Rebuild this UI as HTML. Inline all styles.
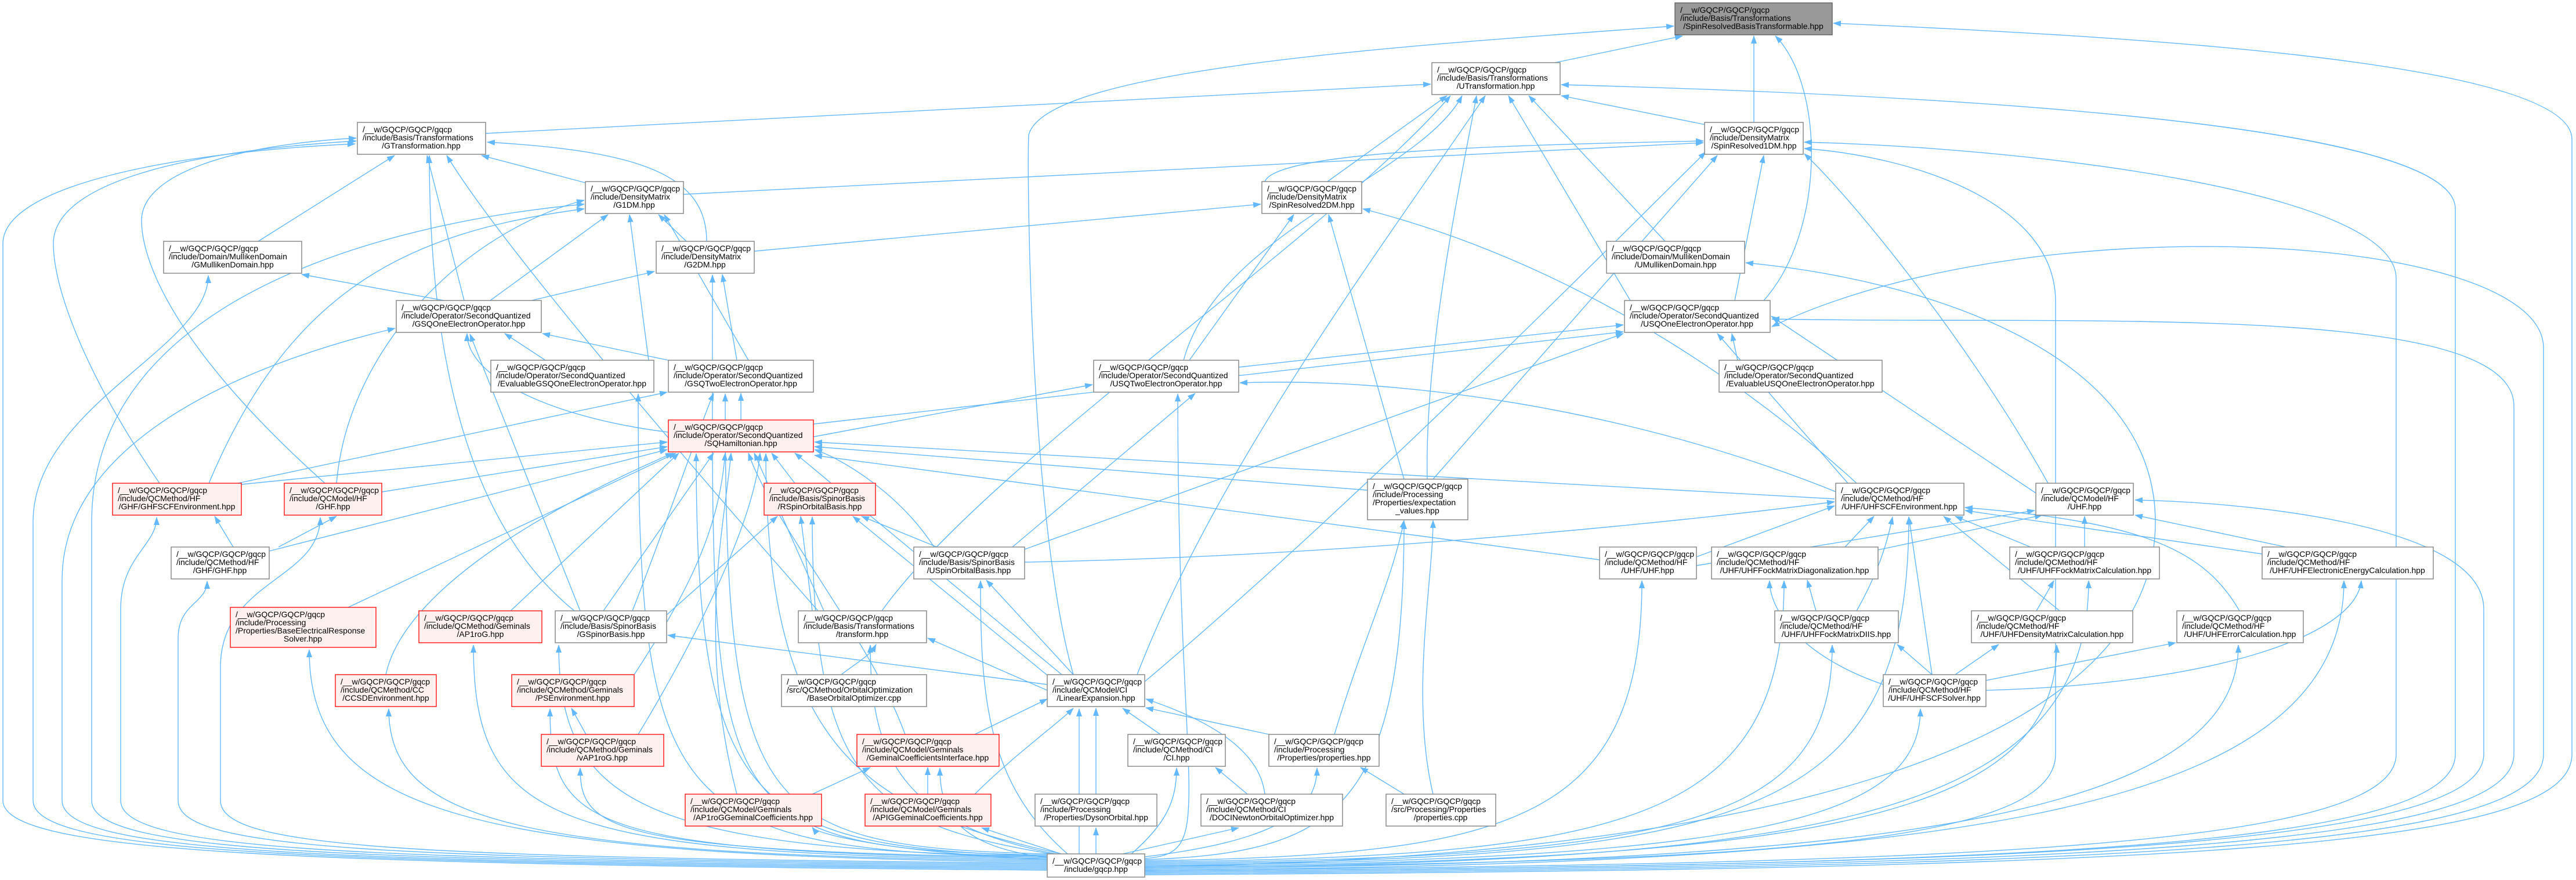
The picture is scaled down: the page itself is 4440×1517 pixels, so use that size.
<!DOCTYPE html>
<html><head><meta charset="utf-8"><style>
html,body{margin:0;padding:0;background:#fff;}
svg{display:block;}
text{font-family:"Liberation Sans",Helvetica,sans-serif;font-size:14px;fill:#000;}
.e{fill:none;stroke:#63b8ff;stroke-width:1.4;marker-end:url(#ah);}
.n{fill:#fff;stroke:#8a8a8a;stroke-width:1.5;}
.r{fill:#fff0f0;stroke:#ff2020;stroke-width:1.5;}
.g{fill:#999;stroke:#666;stroke-width:1.5;}
</style></head><body>
<svg width="4440" height="1517" viewBox="0 0 4440 1517" xmlns="http://www.w3.org/2000/svg">
<defs><marker id="ah" markerWidth="14" markerHeight="10" refX="13" refY="5" orient="auto" markerUnits="userSpaceOnUse"><path d="M0 0 L14 5 L0 10z" fill="#63b8ff"/></marker></defs>
<g>
<!-- gqcp edges left -->
<path class="e" d="M1805 1500 C500 1490,5 1470,5 1380 L5 420 C5 320,300 262,612 248"/>
<path class="e" d="M1805 1498 C520 1488,57 1470,57 1380 L57 900 C57 700,359 600,359 475"/>
<path class="e" d="M1805 1496 C540 1486,107 1470,107 1380 L107 1000 C107 750,450 620,681 566"/>
<path class="e" d="M1805 1494 C560 1484,158 1468,158 1380 L158 900 C158 500,700 380,1007 352"/>
<path class="e" d="M1805 1492 C600 1482,208 1466,208 1380 L208 1050 C208 960,270 940,270 892"/>
<path class="e" d="M1805 1490 C650 1480,307 1464,307 1380 L307 1100 C307 1040,357 1040,357 1002"/>
<path class="e" d="M1805 1488 C700 1478,380 1462,380 1380 L380 1150 C380 1000,552 1000,552 892"/>
<path class="e" d="M1805 1486 C800 1476,533 1400,533 1120"/>
<path class="e" d="M1805 1484 C900 1474,670 1420,670 1222"/>
<path class="e" d="M1805 1482 C950 1472,816 1420,816 1112"/>
<path class="e" d="M1805 1480 C1000 1470,948 1420,948 1222"/>
<path class="e" d="M1805 1478 C1050 1468,1000 1430,1000 1324"/>
<path class="e" d="M1805 1476 C1100 1466,963 1380,963 1112"/>
<path class="e" d="M1805 1474 C1200 1464,1228 1400,1228 474"/>
<path class="e" d="M1805 1476 C1300 1460,1200 1400,1200 782"/>
<path class="e" d="M1830 1472 C1500 1400,1320 1300,1320 782"/>
<path class="e" d="M1805 1472 C1300 1460,1250 1400,1250 679"/>
<path class="e" d="M1805 1478 C1150 1466,1100 1400,1100 679"/>
<path class="e" d="M1812 1472 C1500 1420,1400 1350,1400 891"/>
<path class="e" d="M1820 1472 C1550 1420,1500 1300,1500 1112"/>
<path class="e" d="M1805 1482 C1550 1470,1410 1440,1400 1426"/>
<path class="e" d="M1829 1472 L1692 1427"/>
<path class="e" d="M1805 1478 C1650 1460,1620 1400,1620 1324"/>
<path class="e" d="M1840 1472 C1700 1350,1690 1200,1690 1001"/>
<path class="e" d="M1860 1472 L1860 1222"/>
<path class="e" d="M1889 1472 L1889 1427"/>
<!-- gqcp edges right -->
<path class="e" d="M1935 1472 L2135 1427"/>
<path class="e" d="M1950 1472 C2010 1420,2028 1380,2028 1324"/>
<path class="e" d="M1965 1478 C2200 1450,2270 1400,2270 1324"/>
<path class="e" d="M1973 1482 C2300 1470,2420 1400,2420 899"/>
<path class="e" d="M1973 1480 C2100 1470,2030 1400,2030 679"/>
<path class="e" d="M1973 1484 C2600 1474,2830 1420,2830 1001"/>
<path class="e" d="M1973 1486 C2800 1476,3075 1420,3075 1001"/>
<path class="e" d="M1973 1488 C2900 1478,3158 1420,3158 1112"/>
<path class="e" d="M1973 1490 C3000 1480,3290 1420,3290 891"/>
<path class="e" d="M1973 1492 C3000 1482,3310 1420,3310 1222"/>
<path class="e" d="M1973 1494 C3100 1484,3545 1420,3545 1112"/>
<path class="e" d="M1973 1496 C3100 1486,3600 1420,3600 1001"/>
<path class="e" d="M1973 1498 C3200 1488,3858 1420,3858 1112"/>
<path class="e" d="M1973 1500 C3300 1490,4040 1420,4040 1001"/>
<path class="e" d="M1973 1502 C3500 1492,4281 1460,4281 1300 L4281 1050 C4281 900,3850 865,3680 862"/>
<path class="e" d="M1973 1504 C3600 1494,4333 1460,4333 1300 L4333 700 C4333 520,3600 560,3054 550"/>
<path class="e" d="M1973 1506 C3700 1496,4384 1460,4384 1300 L4384 600 C4384 400,3500 350,3054 563"/>
<path class="e" d="M1973 1500 C3400 1490,4130 1460,4130 1300 L4130 480 C4130 330,3500 255,3110 245"/>
<path class="e" d="M1973 1496 C3000 1486,3543 1460,3543 1300 L3543 520 C3543 350,3300 270,3110 256"/>
<path class="e" d="M1973 1502 C3500 1492,4232 1460,4232 1300 L4232 360 C4232 200,3200 160,2691 146"/>
<path class="e" d="M1973 1508 C3800 1498,4433 1460,4433 1300 L4433 240 C4433 100,3600 60,3160 40"/>
<path class="e" d="M1973 1494 C3000 1480,3715 1300,3715 900 C3715 600,3300 480,3009 453"/>
<!-- internal edges -->
<path class="e" d="M2680 108 L2900 62"/>
<path class="e" d="M3023 211 L3023 62"/>
<path class="e" d="M1850 1163 C1775 900,1770 300,1773 233 C1800 120,2400 80,2885 45"/>
<path class="e" d="M837 230 L2466 145"/>
<path class="e" d="M2940 215 L2691 165"/>
<path class="e" d="M2870 416 L2635 165"/>
<path class="e" d="M2288 313 L2494 165"/>
<path class="e" d="M2810 518 L2600 165"/>
<path class="e" d="M2460 826 C2455 600,2520 300,2545 165"/>
<path class="e" d="M1009 315 L830 268"/>
<path class="e" d="M445 416 L680 268"/>
<path class="e" d="M1218 416 C1218 300,1100 260,840 245"/>
<path class="e" d="M1183 416 L1135 370"/>
<path class="e" d="M1178 335 L2936 246"/>
<path class="e" d="M1300 433 L2173 352"/>
<path class="e" d="M2180 313 C2200 260,2600 250,2936 243"/>
<path class="e" d="M765 518 L520 473"/>
<path class="e" d="M916 518 L1128 468"/>
<path class="e" d="M845 518 L1048 370"/>
<path class="e" d="M800 518 L736 268"/>
<path class="e" d="M1152 621 L935 575"/>
<path class="e" d="M1290 621 L1145 370"/>
<path class="e" d="M1270 621 L1245 473"/>
<path class="e" d="M940 621 L870 575"/>
<path class="e" d="M1118 621 L1085 370"/>
<path class="e" d="M1152 745 C950 720,805 650,805 575"/>
<path class="e" d="M1277 724 L1277 678"/>
<path class="e" d="M1402 731 L2798 572"/>
<path class="e" d="M1402 753 L1883 663"/>
<path class="e" d="M416 835 L1150 762"/>
<path class="e" d="M410 833 L1150 676"/>
<path class="e" d="M275 833 C150 650,92 500,92 420 C92 320,300 262,614 243"/>
<path class="e" d="M658 848 L1150 770"/>
<path class="e" d="M560 833 C300 600,244 450,244 380 C244 300,400 250,614 238"/>
<path class="e" d="M580 833 C600 600,800 400,1007 345"/>
<path class="e" d="M360 833 C500 500,700 400,1007 360"/>
<path class="e" d="M402 943 L370 890"/>
<path class="e" d="M480 943 L580 890"/>
<path class="e" d="M464 950 L1150 775"/>
<path class="e" d="M1370 833 L1330 781"/>
<path class="e" d="M1615 943 L1485 890"/>
<path class="e" d="M1745 943 L2060 678"/>
<path class="e" d="M1766 947 L2798 575"/>
<path class="e" d="M1766 969 C2300 960,2900 900,3162 865"/>
<path class="e" d="M1610 943 C1550 850,1450 790,1404 775"/>
<path class="e" d="M2357 845 L1404 770"/>
<path class="e" d="M2420 826 L2290 370"/>
<path class="e" d="M2470 826 L2960 268"/>
<path class="e" d="M3162 860 L1404 762"/>
<path class="e" d="M3185 833 L2960 575"/>
<path class="e" d="M3200 833 C3000 650,2700 450,2349 360"/>
<path class="e" d="M3170 850 C2800 700,2400 650,2137 660"/>
<path class="e" d="M3509 850 L3053 545"/>
<path class="e" d="M3530 833 C3400 600,3200 350,3110 265"/>
<path class="e" d="M2924 960 L3162 872"/>
<path class="e" d="M2924 975 L3507 880"/>
<path class="e" d="M2757 965 L1404 785"/>
<path class="e" d="M3180 943 L3230 890"/>
<path class="e" d="M3237 948 L3520 888"/>
<path class="e" d="M3500 943 L3370 890"/>
<path class="e" d="M3593 943 L3593 890"/>
<path class="e" d="M3899 955 L3387 880"/>
<path class="e" d="M3940 943 L3680 888"/>
<path class="e" d="M3130 1053 L3115 1000"/>
<path class="e" d="M3200 1053 C3230 1000,3250 950,3262 891"/>
<path class="e" d="M3510 1053 L3540 1001"/>
<path class="e" d="M3550 1053 L3350 890"/>
<path class="e" d="M3860 1053 C3800 950,3700 900,3387 875"/>
<path class="e" d="M3330 1163 L3270 1111"/>
<path class="e" d="M3370 1163 L3445 1111"/>
<path class="e" d="M3423 1173 L3750 1108"/>
<path class="e" d="M3423 1190 C3800 1180,4060 1100,4070 1001"/>
<path class="e" d="M3246 1180 C3100 1130,3050 1050,3050 1001"/>
<path class="e" d="M3330 1163 L3290 891"/>
<path class="e" d="M990 1053 C800 900,740 600,740 268"/>
<path class="e" d="M1040 1053 L1230 781"/>
<path class="e" d="M1000 1053 L810 576"/>
<path class="e" d="M1090 1053 C1150 900,1200 750,1230 678"/>
<path class="e" d="M1149 1060 L1340 890"/>
<path class="e" d="M1805 1180 L1151 1095"/>
<path class="e" d="M1400 1053 L1380 890"/>
<path class="e" d="M1420 1053 L1300 781"/>
<path class="e" d="M1520 1053 C1700 800,2300 400,2500 165"/>
<path class="e" d="M1410 1053 C1100 700,850 400,770 268"/>
<path class="e" d="M1450 1163 C1480 1140,1500 1130,1510 1111"/>
<path class="e" d="M1830 1163 L1370 781"/>
<path class="e" d="M1810 1168 L1470 890"/>
<path class="e" d="M1850 1163 L1700 1000"/>
<path class="e" d="M1805 1190 L1599 1100"/>
<path class="e" d="M1973 1175 C2300 900,2700 500,2940 262"/>
<path class="e" d="M1960 1163 C2100 800,2400 400,2560 165"/>
<path class="e" d="M1680 1266 L1805 1205"/>
<path class="e" d="M1560 1266 C1500 1100,1330 900,1290 781"/>
<path class="e" d="M1400 1369 L1500 1323"/>
<path class="e" d="M1270 1369 C1200 1100,1250 900,1260 781"/>
<path class="e" d="M1599 1369 L1599 1323"/>
<path class="e" d="M1680 1369 C1750 1300,1820 1250,1850 1221"/>
<path class="e" d="M2000 1266 L1935 1221"/>
<path class="e" d="M2150 1369 L2095 1323"/>
<path class="e" d="M2180 1369 C2170 1280,2050 1230,1975 1205"/>
<path class="e" d="M1889 1369 L1889 1221"/>
<path class="e" d="M2187 1266 L1975 1220"/>
<path class="e" d="M2300 1266 C2350 1100,2400 1000,2420 897"/>
<path class="e" d="M2420 1369 L2345 1323"/>
<path class="e" d="M2470 1369 C2430 1200,2470 1000,2470 897"/>
<path class="e" d="M880 1053 L1170 781"/>
<path class="e" d="M1093 1163 C1200 1000,1240 900,1250 781"/>
<path class="e" d="M1010 1266 L985 1221"/>
<path class="e" d="M1100 1266 C1200 1100,1300 900,1310 781"/>
<path class="e" d="M665 1163 C700 1000,1000 850,1160 781"/>
<path class="e" d="M600 1047 L1165 781"/>
<path class="e" d="M2135 633 L2798 560"/>
<path class="e" d="M2050 621 L2230 370"/>
<path class="e" d="M2040 621 C2100 400,2450 300,2520 165"/>
<path class="e" d="M2990 518 L3040 268"/>
<path class="e" d="M3040 518 C3146 400,3146 150,3060 62"/>
<path class="e" d="M2995 621 L2985 575"/>
</g>
<!-- nodes -->
<g>
<rect class="g" x="2887" y="5" width="271" height="55"/><text x="2896" y="22">/__w/GQCP/GQCP/gqcp</text><text x="2896" y="36">/include/Basis/Transformations</text><text x="3022" y="50" text-anchor="middle">/SpinResolvedBasisTransformable.hpp</text>
<rect class="n" x="2468" y="108" width="221" height="55"/><text x="2477" y="125">/__w/GQCP/GQCP/gqcp</text><text x="2477" y="139">/include/Basis/Transformations</text><text x="2578" y="153" text-anchor="middle">/UTransformation.hpp</text>
<rect class="n" x="616" y="211" width="221" height="55"/><text x="625" y="228">/__w/GQCP/GQCP/gqcp</text><text x="625" y="242">/include/Basis/Transformations</text><text x="726" y="256" text-anchor="middle">/GTransformation.hpp</text>
<rect class="n" x="2938" y="211" width="170" height="55"/><text x="2947" y="228">/__w/GQCP/GQCP/gqcp</text><text x="2947" y="242">/include/DensityMatrix</text><text x="3023" y="256" text-anchor="middle">/SpinResolved1DM.hpp</text>
<rect class="n" x="1009" y="313" width="169" height="55"/><text x="1018" y="330">/__w/GQCP/GQCP/gqcp</text><text x="1018" y="344">/include/DensityMatrix</text><text x="1093" y="358" text-anchor="middle">/G1DM.hpp</text>
<rect class="n" x="2175" y="313" width="172" height="55"/><text x="2184" y="330">/__w/GQCP/GQCP/gqcp</text><text x="2184" y="344">/include/DensityMatrix</text><text x="2261" y="358" text-anchor="middle">/SpinResolved2DM.hpp</text>
<rect class="n" x="282" y="416" width="238" height="55"/><text x="291" y="433">/__w/GQCP/GQCP/gqcp</text><text x="291" y="447">/include/Domain/MullikenDomain</text><text x="401" y="461" text-anchor="middle">/GMullikenDomain.hpp</text>
<rect class="n" x="1131" y="416" width="169" height="55"/><text x="1140" y="433">/__w/GQCP/GQCP/gqcp</text><text x="1140" y="447">/include/DensityMatrix</text><text x="1215" y="461" text-anchor="middle">/G2DM.hpp</text>
<rect class="n" x="2769" y="416" width="238" height="55"/><text x="2778" y="433">/__w/GQCP/GQCP/gqcp</text><text x="2778" y="447">/include/Domain/MullikenDomain</text><text x="2888" y="461" text-anchor="middle">/UMullikenDomain.hpp</text>
<rect class="n" x="683" y="518" width="250" height="55"/><text x="692" y="535">/__w/GQCP/GQCP/gqcp</text><text x="692" y="549">/include/Operator/SecondQuantized</text><text x="808" y="563" text-anchor="middle">/GSQOneElectronOperator.hpp</text>
<rect class="n" x="2800" y="518" width="251" height="55"/><text x="2809" y="535">/__w/GQCP/GQCP/gqcp</text><text x="2809" y="549">/include/Operator/SecondQuantized</text><text x="2925" y="563" text-anchor="middle">/USQOneElectronOperator.hpp</text>
<rect class="n" x="846" y="621" width="281" height="55"/><text x="855" y="638">/__w/GQCP/GQCP/gqcp</text><text x="855" y="652">/include/Operator/SecondQuantized</text><text x="986" y="666" text-anchor="middle">/EvaluableGSQOneElectronOperator.hpp</text>
<rect class="n" x="1152" y="621" width="250" height="55"/><text x="1161" y="638">/__w/GQCP/GQCP/gqcp</text><text x="1161" y="652">/include/Operator/SecondQuantized</text><text x="1277" y="666" text-anchor="middle">/GSQTwoElectronOperator.hpp</text>
<rect class="n" x="1885" y="621" width="250" height="55"/><text x="1894" y="638">/__w/GQCP/GQCP/gqcp</text><text x="1894" y="652">/include/Operator/SecondQuantized</text><text x="2010" y="666" text-anchor="middle">/USQTwoElectronOperator.hpp</text>
<rect class="n" x="2963" y="621" width="281" height="55"/><text x="2972" y="638">/__w/GQCP/GQCP/gqcp</text><text x="2972" y="652">/include/Operator/SecondQuantized</text><text x="3103" y="666" text-anchor="middle">/EvaluableUSQOneElectronOperator.hpp</text>
<rect class="r" x="1152" y="724" width="250" height="55"/><text x="1161" y="741">/__w/GQCP/GQCP/gqcp</text><text x="1161" y="755">/include/Operator/SecondQuantized</text><text x="1277" y="769" text-anchor="middle">/SQHamiltonian.hpp</text>
<rect class="r" x="194" y="833" width="222" height="55"/><text x="203" y="850">/__w/GQCP/GQCP/gqcp</text><text x="203" y="864">/include/QCMethod/HF</text><text x="305" y="878" text-anchor="middle">/GHF/GHFSCFEnvironment.hpp</text>
<rect class="r" x="490" y="833" width="168" height="55"/><text x="499" y="850">/__w/GQCP/GQCP/gqcp</text><text x="499" y="864">/include/QCModel/HF</text><text x="574" y="878" text-anchor="middle">/GHF.hpp</text>
<rect class="r" x="1317" y="833" width="192" height="55"/><text x="1326" y="850">/__w/GQCP/GQCP/gqcp</text><text x="1326" y="864">/include/Basis/SpinorBasis</text><text x="1413" y="878" text-anchor="middle">/RSpinOrbitalBasis.hpp</text>
<rect class="n" x="2357" y="826" width="173" height="70"/><text x="2366" y="843">/__w/GQCP/GQCP/gqcp</text><text x="2366" y="857">/include/Processing</text><text x="2366" y="871">/Properties/expectation</text><text x="2443" y="885" text-anchor="middle">_values.hpp</text>
<rect class="n" x="3164" y="833" width="221" height="55"/><text x="3173" y="850">/__w/GQCP/GQCP/gqcp</text><text x="3173" y="864">/include/QCMethod/HF</text><text x="3274" y="878" text-anchor="middle">/UHF/UHFSCFEnvironment.hpp</text>
<rect class="n" x="3509" y="833" width="168" height="55"/><text x="3518" y="850">/__w/GQCP/GQCP/gqcp</text><text x="3518" y="864">/include/QCModel/HF</text><text x="3593" y="878" text-anchor="middle">/UHF.hpp</text>
<rect class="n" x="295" y="943" width="169" height="55"/><text x="304" y="960">/__w/GQCP/GQCP/gqcp</text><text x="304" y="974">/include/QCMethod/HF</text><text x="379" y="988" text-anchor="middle">/GHF/GHF.hpp</text>
<rect class="n" x="1575" y="943" width="191" height="55"/><text x="1584" y="960">/__w/GQCP/GQCP/gqcp</text><text x="1584" y="974">/include/Basis/SpinorBasis</text><text x="1670" y="988" text-anchor="middle">/USpinOrbitalBasis.hpp</text>
<rect class="n" x="2757" y="943" width="167" height="55"/><text x="2766" y="960">/__w/GQCP/GQCP/gqcp</text><text x="2766" y="974">/include/QCMethod/HF</text><text x="2840" y="988" text-anchor="middle">/UHF/UHF.hpp</text>
<rect class="n" x="2950" y="943" width="287" height="55"/><text x="2959" y="960">/__w/GQCP/GQCP/gqcp</text><text x="2959" y="974">/include/QCMethod/HF</text><text x="3093" y="988" text-anchor="middle">/UHF/UHFFockMatrixDiagonalization.hpp</text>
<rect class="n" x="3464" y="943" width="258" height="55"/><text x="3473" y="960">/__w/GQCP/GQCP/gqcp</text><text x="3473" y="974">/include/QCMethod/HF</text><text x="3593" y="988" text-anchor="middle">/UHF/UHFFockMatrixCalculation.hpp</text>
<rect class="n" x="3899" y="943" width="295" height="55"/><text x="3908" y="960">/__w/GQCP/GQCP/gqcp</text><text x="3908" y="974">/include/QCMethod/HF</text><text x="4046" y="988" text-anchor="middle">/UHF/UHFElectronicEnergyCalculation.hpp</text>
<rect class="r" x="397" y="1047" width="251" height="69"/><text x="406" y="1064">/__w/GQCP/GQCP/gqcp</text><text x="406" y="1078">/include/Processing</text><text x="406" y="1092">/Properties/BaseElectricalResponse</text><text x="522" y="1106" text-anchor="middle">Solver.hpp</text>
<rect class="r" x="722" y="1053" width="212" height="55"/><text x="731" y="1070">/__w/GQCP/GQCP/gqcp</text><text x="731" y="1084">/include/QCMethod/Geminals</text><text x="828" y="1098" text-anchor="middle">/AP1roG.hpp</text>
<rect class="n" x="957" y="1053" width="192" height="55"/><text x="966" y="1070">/__w/GQCP/GQCP/gqcp</text><text x="966" y="1084">/include/Basis/SpinorBasis</text><text x="1053" y="1098" text-anchor="middle">/GSpinorBasis.hpp</text>
<rect class="n" x="1376" y="1053" width="221" height="55"/><text x="1385" y="1070">/__w/GQCP/GQCP/gqcp</text><text x="1385" y="1084">/include/Basis/Transformations</text><text x="1486" y="1098" text-anchor="middle">/transform.hpp</text>
<rect class="n" x="3059" y="1053" width="213" height="55"/><text x="3068" y="1070">/__w/GQCP/GQCP/gqcp</text><text x="3068" y="1084">/include/QCMethod/HF</text><text x="3165" y="1098" text-anchor="middle">/UHF/UHFFockMatrixDIIS.hpp</text>
<rect class="n" x="3398" y="1053" width="278" height="55"/><text x="3407" y="1070">/__w/GQCP/GQCP/gqcp</text><text x="3407" y="1084">/include/QCMethod/HF</text><text x="3537" y="1098" text-anchor="middle">/UHF/UHFDensityMatrixCalculation.hpp</text>
<rect class="n" x="3752" y="1053" width="218" height="55"/><text x="3761" y="1070">/__w/GQCP/GQCP/gqcp</text><text x="3761" y="1084">/include/QCMethod/HF</text><text x="3861" y="1098" text-anchor="middle">/UHF/UHFErrorCalculation.hpp</text>
<rect class="r" x="578" y="1163" width="174" height="55"/><text x="587" y="1180">/__w/GQCP/GQCP/gqcp</text><text x="587" y="1194">/include/QCMethod/CC</text><text x="665" y="1208" text-anchor="middle">/CCSDEnvironment.hpp</text>
<rect class="r" x="882" y="1163" width="211" height="55"/><text x="891" y="1180">/__w/GQCP/GQCP/gqcp</text><text x="891" y="1194">/include/QCMethod/Geminals</text><text x="987" y="1208" text-anchor="middle">/PSEnvironment.hpp</text>
<rect class="n" x="1347" y="1163" width="250" height="55"/><text x="1356" y="1180">/__w/GQCP/GQCP/gqcp</text><text x="1356" y="1194">/src/QCMethod/OrbitalOptimization</text><text x="1472" y="1208" text-anchor="middle">/BaseOrbitalOptimizer.cpp</text>
<rect class="n" x="1805" y="1163" width="168" height="55"/><text x="1814" y="1180">/__w/GQCP/GQCP/gqcp</text><text x="1814" y="1194">/include/QCModel/CI</text><text x="1889" y="1208" text-anchor="middle">/LinearExpansion.hpp</text>
<rect class="n" x="3246" y="1163" width="177" height="55"/><text x="3255" y="1180">/__w/GQCP/GQCP/gqcp</text><text x="3255" y="1194">/include/QCMethod/HF</text><text x="3334" y="1208" text-anchor="middle">/UHF/UHFSCFSolver.hpp</text>
<rect class="r" x="933" y="1266" width="211" height="55"/><text x="942" y="1283">/__w/GQCP/GQCP/gqcp</text><text x="942" y="1297">/include/QCMethod/Geminals</text><text x="1038" y="1311" text-anchor="middle">/vAP1roG.hpp</text>
<rect class="r" x="1477" y="1266" width="245" height="55"/><text x="1486" y="1283">/__w/GQCP/GQCP/gqcp</text><text x="1486" y="1297">/include/QCModel/Geminals</text><text x="1599" y="1311" text-anchor="middle">/GeminalCoefficientsInterface.hpp</text>
<rect class="n" x="1944" y="1266" width="168" height="55"/><text x="1953" y="1283">/__w/GQCP/GQCP/gqcp</text><text x="1953" y="1297">/include/QCMethod/CI</text><text x="2028" y="1311" text-anchor="middle">/CI.hpp</text>
<rect class="n" x="2187" y="1266" width="190" height="55"/><text x="2196" y="1283">/__w/GQCP/GQCP/gqcp</text><text x="2196" y="1297">/include/Processing</text><text x="2282" y="1311" text-anchor="middle">/Properties/properties.hpp</text>
<rect class="r" x="1181" y="1369" width="235" height="55"/><text x="1190" y="1386">/__w/GQCP/GQCP/gqcp</text><text x="1190" y="1400">/include/QCModel/Geminals</text><text x="1298" y="1414" text-anchor="middle">/AP1roGGeminalCoefficients.hpp</text>
<rect class="r" x="1491" y="1369" width="217" height="55"/><text x="1500" y="1386">/__w/GQCP/GQCP/gqcp</text><text x="1500" y="1400">/include/QCModel/Geminals</text><text x="1599" y="1414" text-anchor="middle">/APIGGeminalCoefficients.hpp</text>
<rect class="n" x="1784" y="1369" width="210" height="55"/><text x="1793" y="1386">/__w/GQCP/GQCP/gqcp</text><text x="1793" y="1400">/include/Processing</text><text x="1889" y="1414" text-anchor="middle">/Properties/DysonOrbital.hpp</text>
<rect class="n" x="2070" y="1369" width="244" height="55"/><text x="2079" y="1386">/__w/GQCP/GQCP/gqcp</text><text x="2079" y="1400">/include/QCMethod/CI</text><text x="2192" y="1414" text-anchor="middle">/DOCINewtonOrbitalOptimizer.hpp</text>
<rect class="n" x="2389" y="1369" width="189" height="55"/><text x="2398" y="1386">/__w/GQCP/GQCP/gqcp</text><text x="2398" y="1400">/src/Processing/Properties</text><text x="2483" y="1414" text-anchor="middle">/properties.cpp</text>
<rect class="n" x="1805" y="1472" width="168" height="40"/><text x="1814" y="1489">/__w/GQCP/GQCP/gqcp</text><text x="1889" y="1503" text-anchor="middle">/include/gqcp.hpp</text>
</g>
</svg>
</body></html>
